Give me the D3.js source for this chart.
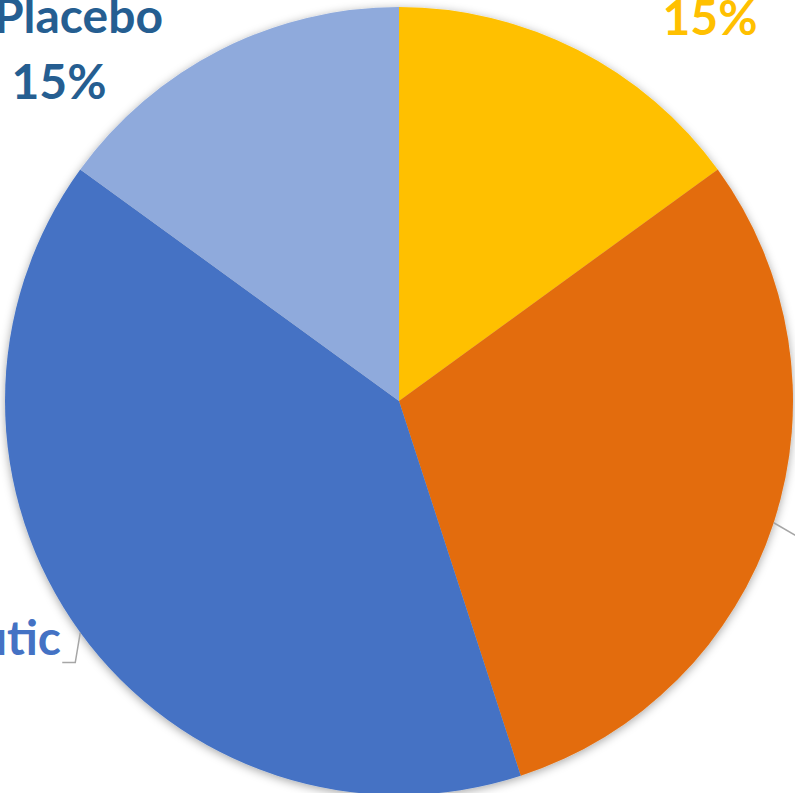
<!DOCTYPE html>
<html>
<head>
<meta charset="utf-8">
<script src="https://cdn.jsdelivr.net/npm/d3@7"></script>
<style>
  body { margin: 0; background: #fff; overflow: hidden; }
  svg { display: block; }
  .lbl { font-family: Lato, "Open Sans", sans-serif; font-weight: 700; font-size: 48px; }
</style>
</head>
<body>
<div id="chart"></div>
<script>
// slices, clockwise from 12 o'clock
const categories = [null, null, "Therapeutic", "Placebo"];
const shares = [15, 30, 40, 15];
const sliceColors = ["#FFC000", "#E36C0A", "#4472C4", "#8FAADC"];
const labelColors = ["#FFC000", "#E36C0A", "#4472C4", "#255E91"];

function drawPie() {
  const width = 795, height = 793;
  const cx = 399, cy = 401, radius = 394;

  const svg = d3.select("#chart")
    .append("svg")
    .attr("width", width)
    .attr("height", height);

  // soft outer shadow like the office chart
  const defs = svg.append("defs");
  const f = defs.append("filter")
    .attr("id", "shadow")
    .attr("x", "-10%").attr("y", "-10%")
    .attr("width", "120%").attr("height", "120%");
  f.append("feDropShadow")
    .attr("dx", 0).attr("dy", 2)
    .attr("stdDeviation", 5)
    .attr("flood-color", "#000")
    .attr("flood-opacity", 0.35);

  const data = shares.map((v, i) => ({ name: categories[i], value: v, i }));

  const pie = d3.pie().value(d => d.value).sort(null);
  const arc = d3.arc().innerRadius(0).outerRadius(radius);
  const pieData = pie(data);

  const g = svg.append("g").attr("transform", `translate(${cx},${cy})`);

  g.append("g")
    .attr("filter", "url(#shadow)")
    .selectAll("path")
    .data(pieData)
    .enter()
    .append("path")
    .attr("d", arc)
    .attr("fill", d => sliceColors[d.data.i]);

  // point on the rim at the middle of a slice
  const rim = (d, r) => {
    const a = (d.startAngle + d.endAngle) / 2;
    return [r * Math.sin(a), -r * Math.cos(a)];
  };

  const leader = g.append("g")
    .attr("fill", "none")
    .attr("stroke", "#A6A6A6")
    .attr("stroke-width", 1.5);

  // orange slice leader runs off to the right
  const pO = rim(pieData[1], radius);
  leader.append("path")
    .attr("d", `M${pO[0]},${pO[1]} L${pO[0] + 50},${pO[1] + 29}`);

  // blue slice leader, bent towards its label on the left
  const pB = rim(pieData[2], radius);
  leader.append("path")
    .attr("d", `M${pB[0]},${pB[1]} L${pB[0] - 5},${pB[1] + 30} L${pB[0] - 18},${pB[1] + 30}`);

  const fmt = d => d3.format(".0f")(d.data.value) + "%";

  // yellow label (name line sits above the view)
  g.append("text").attr("class", "lbl")
    .attr("x", 710 - cx).attr("y", 35 - cy)
    .attr("text-anchor", "middle")
    .attr("fill", labelColors[0])
    .text(fmt(pieData[0]));

  // blue label (percent line falls outside the view)
  g.append("text").attr("class", "lbl")
    .attr("x", 61 - cx).attr("y", 655 - cy)
    .attr("text-anchor", "end")
    .attr("fill", labelColors[2])
    .text(pieData[2].data.name);
  g.append("text").attr("class", "lbl")
    .attr("x", -140 - cx).attr("y", 714 - cy)
    .attr("text-anchor", "middle")
    .attr("fill", labelColors[2])
    .text(fmt(pieData[2]));

  // light blue label
  g.append("text").attr("class", "lbl")
    .attr("x", 163 - cx).attr("y", 33 - cy)
    .attr("text-anchor", "end")
    .attr("fill", labelColors[3])
    .text(pieData[3].data.name);
  g.append("text").attr("class", "lbl")
    .attr("x", 59 - cx).attr("y", 99 - cy)
    .attr("text-anchor", "middle")
    .attr("fill", labelColors[3])
    .text(fmt(pieData[3]));
}

drawPie();
</script>
</body>
</html>
